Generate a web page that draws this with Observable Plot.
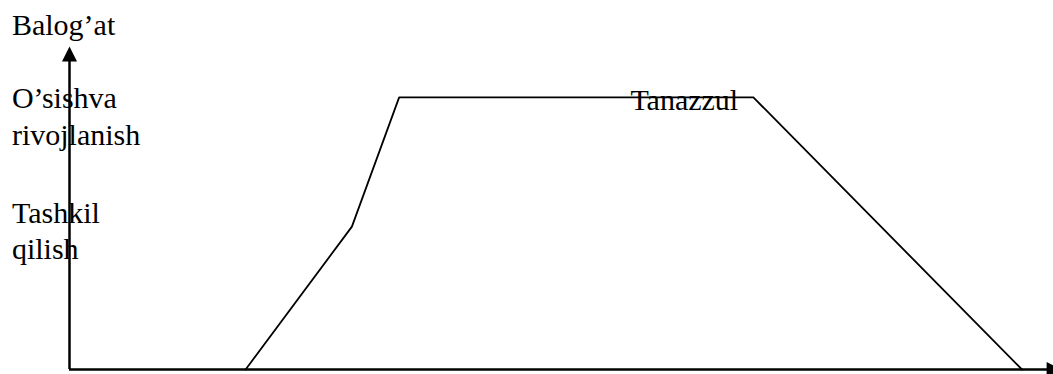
<!DOCTYPE html>
<html>
<head>
<meta charset="utf-8">
<script src="https://cdn.jsdelivr.net/npm/d3@7"></script>
<script src="https://cdn.jsdelivr.net/npm/@observablehq/plot@0.6"></script>
<style>
  html, body { margin: 0; padding: 0; background: #fff; font-family: "Liberation Serif", serif; }
  #chart { width: 1053px; height: 374px; overflow: hidden; position: relative; }
  #chart svg text, #chart svg tspan { font-family: "Liberation Serif", serif; }
  .warm { position: absolute; left: 0; top: 0; font-size: 30px; line-height: 1; pointer-events: none; }
</style>
</head>
<body>
<div id="chart"><span class="warm" style="font-family:'Liberation Serif'">&nbsp;</span><span class="warm" style="font-family:monospace;font-size:10px">&nbsp;</span></div>
<script>
// Lifecycle curve (time on x, level on y), values in chart units 0–100
const curveX = [17.9, 28.7, 33.5, 69.5, 96.8];
const curveY = [0, 44.1, 84.0, 84.0, 0];

// Text labels
const labelText = ["Balog’at", "O’sishva\nrivojlanish", "Tashkil\nqilish", "Tanazzul"];
const labelX = [-5.85, -5.85, -5.85, 57.0];
const labelY = [103.1, 69.4, 34.0, 80.2];

const curve = curveX.map((x, i) => ({x, y: curveY[i]}));
const labels = labelText.map((t, i) => ({t, x: labelX[i], y: labelY[i]}));

function build() {
  let heads = [];
  let axisY = Plot.ruleX([0], {y1: 0, y2: 96, stroke: "#000", strokeWidth: 2.5});
  let axisX = Plot.ruleY([0], {x1: 0, x2: 99.5, stroke: "#000", strokeWidth: 2.5});
  try {
    heads = [
      Plot.vector([{x: 0, y: 95.1}], {x: "x", y: "y", shape: "spike", anchor: "start", length: 15, r: 7.5, rotate: 0, fill: "#000", stroke: "none"}),
      Plot.vector([{x: 99.3, y: 0}], {x: "x", y: "y", shape: "spike", anchor: "start", length: 15, r: 7.5, rotate: 90, fill: "#000", stroke: "none"})
    ];
  } catch (e) {
    heads = [];
  }
  const chart = Plot.plot({
    width: 1053,
    height: 374,
    margin: 0,
    x: {domain: [0, 100], range: [69, 1053], axis: null},
    y: {domain: [0, 100], range: [369, 45], axis: null},
    marks: [
      axisY,
      axisX,
      ...heads,
      Plot.line(curve, {x: "x", y: "y", stroke: "#000", strokeWidth: 1.8}),
      Plot.text(labels, {
        x: "x", y: "y", text: "t",
        textAnchor: "start", lineAnchor: "bottom", lineHeight: 1.22,
        fontFamily: "Liberation Serif", fontSize: 30, fill: "#000"
      })
    ]
  });
  chart.setAttribute("font-family", "Liberation Serif, serif");
  chart.querySelectorAll("text, tspan").forEach(el => el.style.fontFamily = "'Liberation Serif', serif");
  return chart;
}

const holder = document.getElementById("chart");
let current = build();
holder.prepend(current);
void current.getBBox();

function refresh() {
  const next = build();
  holder.replaceChild(next, current);
  current = next;
  void current.getBBox();
}
if (document.fonts && document.fonts.load) {
  document.fonts.load("30px 'Liberation Serif'").then(refresh).catch(() => {});
}
window.addEventListener("load", refresh);
</script>
</body>
</html>
